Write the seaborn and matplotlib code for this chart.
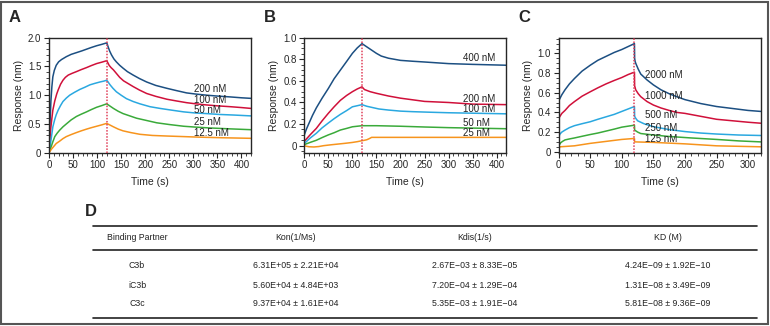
import numpy as np
import pandas as pd
import matplotlib
matplotlib.use("Agg")
import matplotlib.pyplot as plt
import seaborn as sns
from matplotlib.ticker import MultipleLocator, FuncFormatter
from matplotlib.lines import Line2D
from matplotlib.patches import Rectangle

sns.set_style("ticks")
plt.rcParams['font.family'] = ['Liberation Sans', 'DejaVu Sans']

# ---------------- data ----------------
# Panel A
a_labels = ["200 nM", "100 nM", "50 nM", "25 nM", "12.5 nM"]
a_t = [
    [0, 2, 4, 6, 8, 11, 15, 20, 26, 36, 46, 57, 68, 78, 88, 99, 110, 120,
     121, 123, 126, 130, 135, 140, 147, 154, 163, 175, 188, 203, 222, 245, 265, 286, 305, 328, 350, 377, 400, 420],
    [0, 2, 4, 6, 8, 12, 16, 19, 24, 29, 34, 40, 48, 57, 67, 78, 88, 99, 110, 120,
     122, 125, 129, 134, 140, 147, 155, 165, 175, 188, 203, 222, 245, 265, 286, 305, 328, 350, 377, 400, 420],
    [0, 3, 5, 8, 12, 15, 19, 24, 29, 36, 43, 53, 64, 75, 85, 95, 106, 114, 120,
     122, 127, 133, 140, 150, 161, 175, 189, 210, 231, 255, 280, 305, 328, 355, 384, 420],
    [0, 4, 8, 12, 17, 22, 29, 36, 46, 57, 67, 78, 88, 99, 110, 120,
     127, 134, 144, 154, 168, 182, 203, 224, 250, 280, 305, 335, 375, 420],
    [0, 5, 10, 15, 22, 29, 36, 46, 57, 67, 78, 88, 99, 110, 120,
     127, 134, 144, 154, 170, 189, 215, 245, 280, 314, 360, 420],
]
a_v = [
    [0, 0.5, 0.9, 1.15, 1.32, 1.43, 1.52, 1.58, 1.62, 1.67, 1.71, 1.74, 1.77, 1.80, 1.83, 1.86, 1.885, 1.91,
     1.89, 1.84, 1.77, 1.70, 1.63, 1.58, 1.52, 1.47, 1.41, 1.35, 1.29, 1.23, 1.17, 1.12, 1.08, 1.04, 1.02, 1.00, 0.985, 0.97, 0.955, 0.945],
    [0, 0.25, 0.45, 0.6, 0.74, 0.9, 1.02, 1.09, 1.19, 1.26, 1.31, 1.35, 1.38, 1.41, 1.445, 1.48, 1.515, 1.55, 1.575, 1.60,
     1.57, 1.52, 1.48, 1.44, 1.38, 1.31, 1.25, 1.20, 1.15, 1.09, 1.03, 0.98, 0.93, 0.90, 0.87, 0.85, 0.83, 0.815, 0.80, 0.785, 0.77],
    [0, 0.15, 0.27, 0.45, 0.58, 0.66, 0.74, 0.82, 0.89, 0.95, 1.00, 1.05, 1.10, 1.14, 1.18, 1.205, 1.23, 1.245, 1.26,
     1.24, 1.18, 1.12, 1.06, 1.00, 0.94, 0.89, 0.85, 0.80, 0.77, 0.74, 0.71, 0.69, 0.68, 0.665, 0.655, 0.64],
    [0, 0.09, 0.19, 0.28, 0.34, 0.39, 0.45, 0.50, 0.57, 0.63, 0.67, 0.71, 0.75, 0.79, 0.82, 0.85,
     0.81, 0.77, 0.72, 0.68, 0.64, 0.60, 0.56, 0.52, 0.49, 0.46, 0.445, 0.43, 0.415, 0.40],
    [0, 0.06, 0.11, 0.16, 0.20, 0.245, 0.28, 0.315, 0.35, 0.38, 0.41, 0.435, 0.46, 0.485, 0.51,
     0.48, 0.45, 0.41, 0.38, 0.35, 0.32, 0.30, 0.29, 0.28, 0.27, 0.26, 0.25],
]
a_label_y = [1.10, 0.92, 0.75, 0.53, 0.34]

# Panel B
b_labels = ["400 nM", "200 nM", "100 nM", "50 nM", "25 nM"]
b_t = [
    [0, 5, 10, 17, 25, 37, 50, 62, 75, 88, 100, 110, 120, 130, 140, 150, 160, 175, 200, 225, 250, 300, 350, 420],
    [0, 12, 25, 37, 50, 62, 75, 88, 100, 110, 120, 125, 137, 150, 175, 200, 225, 250, 300, 350, 420],
    [0, 12, 25, 37, 50, 62, 75, 88, 100, 110, 120, 130, 140, 155, 175, 200, 225, 260, 300, 360, 420],
    [0, 12, 25, 37, 50, 62, 75, 88, 100, 110, 120, 150, 200, 250, 300, 360, 420],
    [0, 5, 10, 20, 30, 40, 55, 70, 85, 100, 110, 120, 125, 130, 135, 140, 200, 420],
]
b_v = [
    [0.10, 0.16, 0.21, 0.28, 0.35, 0.44, 0.53, 0.62, 0.70, 0.78, 0.855, 0.905, 0.945,
     0.915, 0.885, 0.855, 0.83, 0.81, 0.79, 0.782, 0.775, 0.76, 0.753, 0.745],
    [0.04, 0.10, 0.16, 0.23, 0.30, 0.36, 0.42, 0.465, 0.50, 0.525, 0.545,
     0.52, 0.50, 0.485, 0.46, 0.44, 0.425, 0.41, 0.40, 0.385, 0.38],
    [0.02, 0.07, 0.115, 0.165, 0.21, 0.25, 0.29, 0.325, 0.36, 0.37, 0.38,
     0.365, 0.355, 0.34, 0.33, 0.32, 0.315, 0.31, 0.305, 0.30, 0.295],
    [0.01, 0.03, 0.05, 0.075, 0.10, 0.12, 0.145, 0.16, 0.175, 0.18, 0.185,
     0.185, 0.18, 0.173, 0.167, 0.162, 0.157],
    [0.0, -0.006, -0.01, -0.012, -0.008, 0.0, 0.008, 0.015, 0.022, 0.03, 0.037, 0.046,
     0.05, 0.055, 0.065, 0.077, 0.077, 0.077],
]
b_label_y = [0.81, 0.435, 0.34, 0.21, 0.115]

# Panel C
c_labels = ["2000 nM", "1000 nM", "500 nM", "250 nM", "125 nM"]
c_t = [
    [0, 1, 5, 10, 17, 25, 37, 50, 62, 75, 88, 100, 110, 120,
     120.3, 121, 122, 126, 130, 140, 150, 162, 175, 187, 200, 225, 250, 275, 300, 320],
    [0, 1, 5, 10, 17, 25, 37, 50, 62, 75, 88, 100, 110, 120,
     120.3, 122, 126, 130, 140, 150, 162, 175, 187, 200, 225, 250, 275, 300, 320],
    [0, 2, 5, 10, 17, 25, 37, 50, 62, 75, 88, 100, 110, 120,
     120.3, 122, 125, 135, 150, 175, 200, 225, 250, 285, 320],
    [0, 3, 6, 10, 17, 25, 37, 50, 62, 75, 88, 100, 110, 120,
     120.3, 125, 130, 150, 175, 210, 250, 285, 320],
    [0, 2, 25, 50, 75, 100, 120, 120.3, 150, 200, 250, 320],
]
c_v = [
    [0.47, 0.53, 0.58, 0.63, 0.69, 0.745, 0.82, 0.88, 0.93, 0.97, 1.01, 1.04, 1.07, 1.10,
     0.95, 0.92, 0.90, 0.84, 0.79, 0.73, 0.68, 0.63, 0.59, 0.56, 0.53, 0.49, 0.46, 0.44, 0.42, 0.41],
    [0.30, 0.35, 0.39, 0.42, 0.47, 0.51, 0.565, 0.61, 0.65, 0.69, 0.725, 0.755, 0.785, 0.81,
     0.67, 0.63, 0.59, 0.56, 0.51, 0.475, 0.445, 0.42, 0.40, 0.39, 0.36, 0.33, 0.315, 0.30, 0.29],
    [0.15, 0.18, 0.20, 0.22, 0.245, 0.265, 0.285, 0.305, 0.33, 0.355, 0.38, 0.41, 0.435, 0.46,
     0.36, 0.34, 0.315, 0.285, 0.255, 0.225, 0.205, 0.19, 0.18, 0.17, 0.165],
    [0.06, 0.09, 0.105, 0.12, 0.13, 0.14, 0.157, 0.175, 0.19, 0.21, 0.23, 0.25, 0.26, 0.27,
     0.22, 0.20, 0.185, 0.17, 0.155, 0.14, 0.125, 0.11, 0.10],
    [0.03, 0.05, 0.06, 0.085, 0.105, 0.125, 0.135, 0.10, 0.095, 0.08, 0.06, 0.05],
]
c_label_y = [0.78, 0.57, 0.37, 0.245, 0.13]

# Table D
tbl_header = ["Binding Partner", "Kon(1/Ms)", "Kdis(1/s)", "KD (M)"]
tbl_partner = ["C3b", "iC3b", "C3c"]
tbl_kon = ["6.31E+05 \u00b1 2.21E+04", "5.60E+04 \u00b1 4.84E+03", "9.37E+04 \u00b1 1.61E+04"]
tbl_kdis = ["2.67E\u221203 \u00b1 8.33E\u221205", "7.20E\u221204 \u00b1 1.29E\u221204", "5.35E\u221203 \u00b1 1.91E\u221204"]
tbl_kd = ["4.24E\u221209 \u00b1 1.92E\u221210", "1.31E\u221208 \u00b1 3.49E\u221209", "5.81E\u221208 \u00b1 9.36E\u221209"]

colors = ["#1c4f82", "#d0103a", "#2aa8e0", "#3aaa3a", "#f7941d"]

W, H = 770, 326
fig = plt.figure(figsize=(W / 100, H / 100), dpi=100)


def fx(px):
    return px / W


def fy(py):
    return 1 - py / H


def panel(left_px, xlim, ylim, ymaj, ymin, ts, vs, labels, label_x, label_y, letter, yfmt):
    ax = fig.add_axes([fx(left_px), fy(152.7), 202 / W, 115 / H])
    rows = []
    for lab, t, v in zip(labels, ts, vs):
        for ti, vi in zip(t, v):
            rows.append((lab, ti, vi))
    df = pd.DataFrame(rows, columns=["conc", "t", "v"])
    sns.lineplot(data=df, x="t", y="v", hue="conc", hue_order=labels,
                 palette=colors, sort=False, estimator=None, lw=1.1,
                 legend=False, ax=ax)
    ax.axvline(120, color="#e0405a", ls=(0, (1, 1)), lw=1.1, zorder=3)
    ax.set_xlim(*xlim)
    ax.set_ylim(*ylim)
    ax.xaxis.set_major_locator(MultipleLocator(50))
    ax.xaxis.set_minor_locator(MultipleLocator(10))
    ax.yaxis.set_major_locator(MultipleLocator(ymaj))
    ax.yaxis.set_minor_locator(MultipleLocator(ymin))
    ax.yaxis.set_major_formatter(FuncFormatter(yfmt))
    ax.tick_params(which="major", length=3.5, width=0.8, labelsize=7, pad=2, direction="out")
    ax.tick_params(which="minor", length=2, width=0.6, direction="out")
    for s in ax.spines.values():
        s.set_linewidth(1.0)
        s.set_visible(True)
    ax.set_xlabel("Time (s)", fontsize=7.5, labelpad=5)
    ax.set_ylabel("Response (nm)", fontsize=7.5, labelpad=3)
    for lab, ly in zip(labels, label_y):
        ax.text(label_x, ly, lab, fontsize=7, va="center", ha="left", color="#222222")
    fig.text(fx(left_px - 40), fy(18), letter, fontsize=12, fontweight="bold", va="center", ha="left")
    return ax


fmt_a = lambda v, p: "0" if abs(v) < 1e-9 else f"{v:.1f}"
panel(49, (0, 420), (0, 2.0), 0.5, 0.1, a_t, a_v, a_labels, 302, a_label_y, "A", fmt_a)
panel(304.3, (0, 420), (-0.065, 1.0), 0.2, 0.05, b_t, b_v, b_labels, 330, b_label_y, "B", fmt_a)
panel(558.7, (0, 320), (-0.01, 1.16), 0.2, 0.05, c_t, c_v, c_labels, 137, c_label_y, "C", fmt_a)

# ---------------- table D ----------------
fig.text(fx(85), fy(212), "D", fontsize=12, fontweight="bold", va="center", ha="left")
for ypx in [225.5, 250, 318]:
    fig.add_artist(Line2D([fx(93), fx(757)], [fy(ypx), fy(ypx)], color="#222222", lw=1.2))
col_x = [137, 296, 475, 668]
for cx, h in zip(col_x, tbl_header):
    fig.text(fx(cx), fy(238), h, fontsize=6.3, ha="center", va="center", color="#222222")
row_y = [266, 285, 304]
for i, ry in enumerate(row_y):
    for cx, val in zip(col_x, [tbl_partner[i], tbl_kon[i], tbl_kdis[i], tbl_kd[i]]):
        fig.text(fx(cx), fy(ry), val, fontsize=6.3, ha="center", va="center", color="#222222")

# outer frame
fig.add_artist(Rectangle((fx(1), fy(324)), fx(767), 322 / H, fill=False,
                         edgecolor="#555555", lw=1.5, transform=fig.transFigure))

fig.savefig("out.png", dpi=100)
